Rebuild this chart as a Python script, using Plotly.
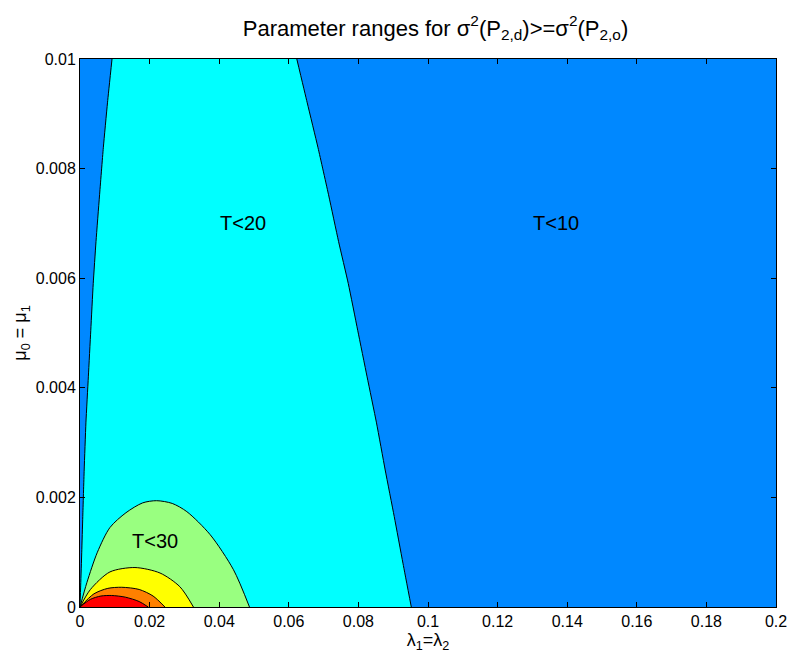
import plotly.graph_objects as go

# ---- data ----
x_ticks = [0, 0.02, 0.04, 0.06, 0.08, 0.1, 0.12, 0.14, 0.16, 0.18, 0.2]
x_tick_labels = ["0", "0.02", "0.04", "0.06", "0.08", "0.1", "0.12", "0.14", "0.16", "0.18", "0.2"]
y_ticks = [0, 0.002, 0.004, 0.006, 0.008, 0.01]
y_tick_labels = ["0", "0.002", "0.004", "0.006", "0.008", "0.01"]

# T<20 region boundaries (left rising edge, right falling edge)
cyan_left_x = [0.0, 0.0002, 0.0005, 0.0008, 0.0012, 0.0017, 0.0024, 0.0031, 0.0038, 0.0046, 0.0056, 0.0067, 0.0079, 0.0092]
cyan_left_y = [0.0, 0.0004, 0.0010, 0.00165, 0.0025, 0.00336, 0.0042, 0.00505, 0.0059, 0.00667, 0.0075, 0.00838, 0.0092, 0.01]
cyan_right_x = [0.0623, 0.0653, 0.0684, 0.0715, 0.0743, 0.0771, 0.0798, 0.0825, 0.0852, 0.0877, 0.0903, 0.0928, 0.0952]
cyan_right_y = [0.01, 0.0092, 0.00838, 0.0075, 0.00667, 0.0059, 0.00505, 0.0042, 0.00336, 0.0025, 0.00165, 0.0008, 0.0]

# T<30 (green) arch
green_x = [0.0, 0.002, 0.005, 0.0086, 0.0132, 0.018, 0.022, 0.0265, 0.0307, 0.0374, 0.0441, 0.0487]
green_y = [0.0, 0.00045, 0.00100, 0.00145, 0.00172, 0.00190, 0.00194, 0.00189, 0.00174, 0.00132, 0.00068, 0.0]

# yellow arch
yellow_x = [0.0, 0.003, 0.0086, 0.0158, 0.023, 0.0287, 0.0326]
yellow_y = [0.0, 0.00032, 0.00064, 0.00072, 0.00062, 0.00037, 0.0]

# orange arch
orange_x = [0.0, 0.004, 0.008, 0.012, 0.017, 0.021, 0.0244]
orange_y = [0.0, 0.00024, 0.00034, 0.00036, 0.00032, 0.00020, 0.0]

# red arch
red_x = [0.0, 0.003, 0.006, 0.0091, 0.013, 0.017, 0.0196]
red_y = [0.0, 0.00014, 0.00020, 0.00021, 0.00018, 0.00010, 0.0]

region_labels = ["T<10", "T<20", "T<30"]
label_x = [0.1368, 0.0468, 0.0216]
label_y = [0.0070, 0.0070, 0.00121]

# ---- figure ----
BG_BLUE = "rgb(0,136,255)"
CYAN = "rgb(0,255,255)"
GREEN = "rgb(153,255,128)"
YELLOW = "rgb(255,255,0)"
ORANGE = "rgb(255,128,0)"
RED = "rgb(255,0,0)"

fig = go.Figure()

cx = cyan_left_x + cyan_right_x + [0.0]
cy = cyan_left_y + cyan_right_y + [0.0]
fig.add_trace(go.Scatter(x=cx, y=cy, mode="none", fill="toself", fillcolor=CYAN,
                         hoverinfo="skip", showlegend=False))
fig.add_trace(go.Scatter(x=cyan_left_x, y=cyan_left_y, mode="lines",
                         line=dict(color="black", width=1, shape="spline", smoothing=0.5),
                         hoverinfo="skip", showlegend=False))
fig.add_trace(go.Scatter(x=cyan_right_x, y=cyan_right_y, mode="lines",
                         line=dict(color="black", width=1, shape="spline", smoothing=0.5),
                         hoverinfo="skip", showlegend=False))

for xs, ys, col in [(green_x, green_y, GREEN), (yellow_x, yellow_y, YELLOW),
                    (orange_x, orange_y, ORANGE), (red_x, red_y, RED)]:
    fig.add_trace(go.Scatter(x=xs, y=ys, mode="lines", fill="toself", fillcolor=col,
                             line=dict(color="black", width=1, shape="spline", smoothing=0.8),
                             hoverinfo="skip", showlegend=False))

for t, lx, ly in zip(region_labels, label_x, label_y):
    fig.add_annotation(x=lx, y=ly, text=t, showarrow=False,
                       font=dict(size=20, color="black"))

fig.update_layout(
    width=789, height=662,
    margin=dict(l=80, r=13, t=59, b=55, autoexpand=False),
    paper_bgcolor="white",
    plot_bgcolor=BG_BLUE,
    font=dict(family="Liberation Sans, Arial, sans-serif", size=16, color="black"),
    title=dict(text="Parameter ranges for σ<sup>2</sup>(P<sub>2,d</sub>)>=σ<sup>2</sup>(P<sub>2,o</sub>)",
               x=0.552, xanchor="center", y=0.958, yanchor="middle",
               font=dict(size=22, color="black")),
)
fig.update_xaxes(range=[0, 0.2], tickvals=x_ticks, ticktext=x_tick_labels,
                 automargin=False,
                 showgrid=False, zeroline=False, showline=True, linecolor="black",
                 linewidth=1, mirror="ticks", ticks="inside", ticklen=5,
                 tickcolor="black", tickfont=dict(size=16),
                 title=dict(text="λ<sub>1</sub>=λ<sub>2</sub>", standoff=0,
                            font=dict(size=18)))
fig.update_yaxes(range=[0, 0.01], tickvals=y_ticks, ticktext=y_tick_labels,
                 automargin=False,
                 showgrid=False, zeroline=False, showline=True, linecolor="black",
                 linewidth=1, mirror="ticks", ticks="inside", ticklen=5,
                 tickcolor="black", tickfont=dict(size=16),
                 title=dict(text="μ<sub>0</sub> = μ<sub>1</sub>", standoff=4,
                            font=dict(size=18)))

fig.write_html("out.html")
